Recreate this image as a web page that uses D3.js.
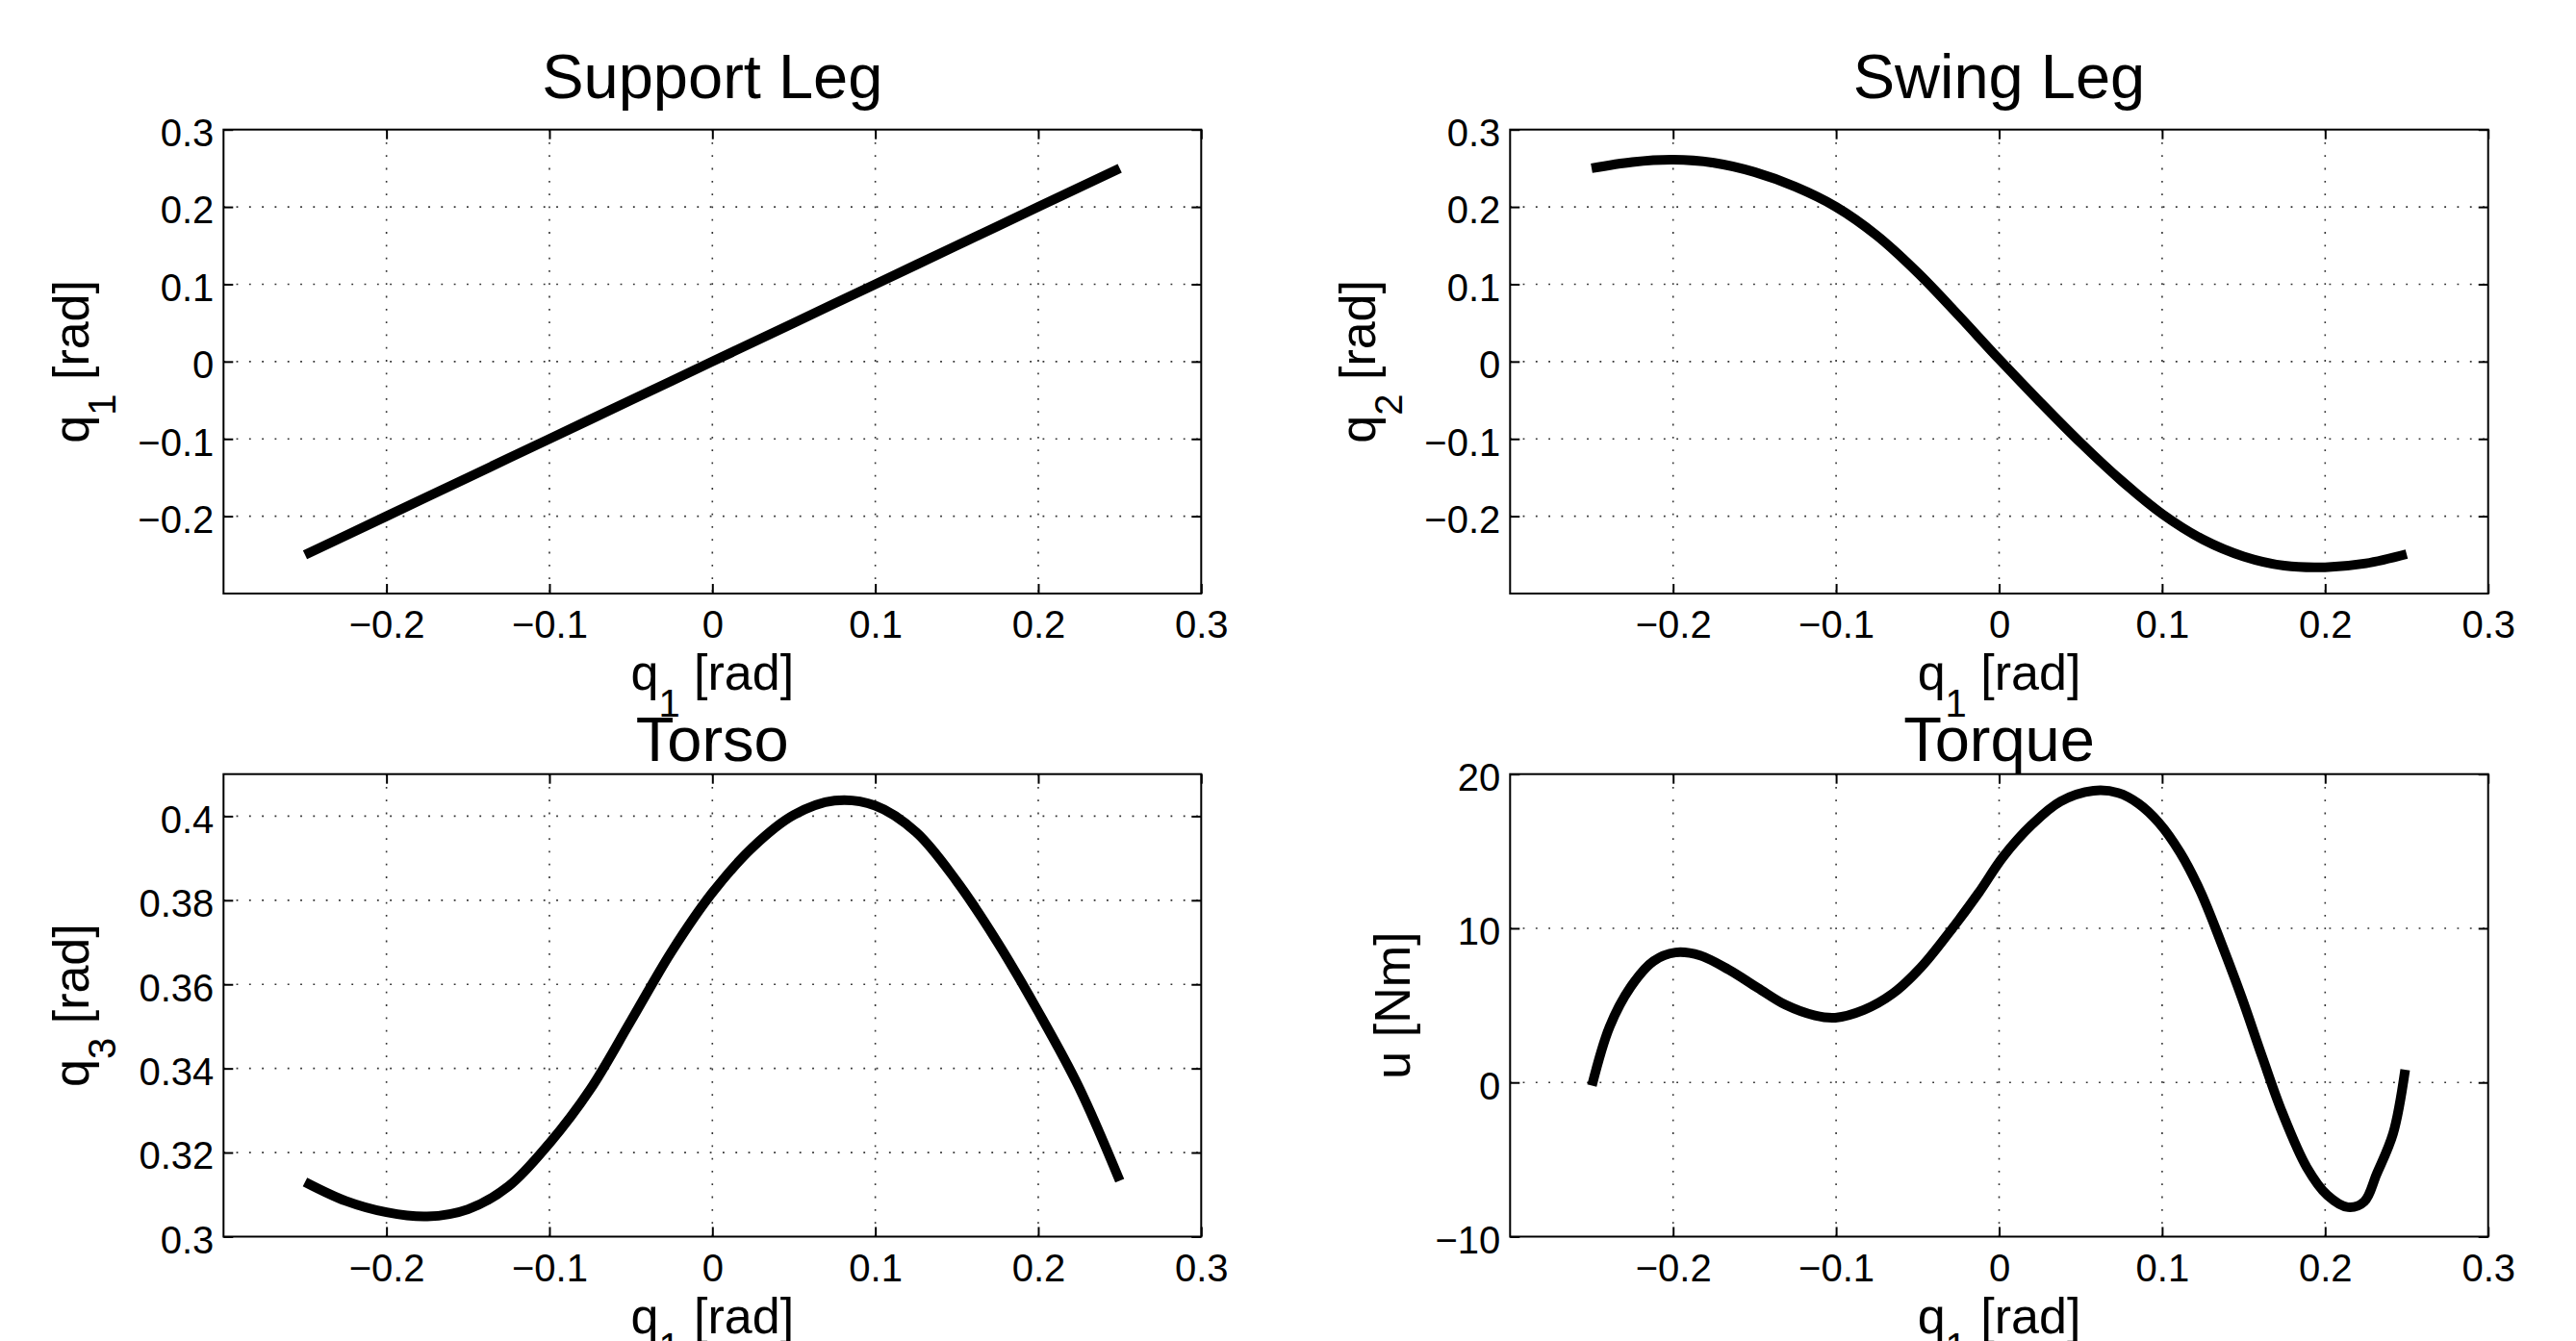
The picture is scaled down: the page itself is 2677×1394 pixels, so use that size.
<!DOCTYPE html>
<html>
<head>
<meta charset="utf-8">
<script src="https://cdn.jsdelivr.net/npm/d3@7"></script>
<style>
  html, body { margin: 0; padding: 0; background: #fff; }
  svg { display: block; }
  text { font-family: "Liberation Sans", Arial, Helvetica, sans-serif; fill: #000; white-space: pre; }
</style>
</head>
<body>
<svg id="chart" width="2677" height="1394"></svg>
<script>
// ---------------- DATA ----------------
const q1Grid   = [-0.25,-0.225,-0.2,-0.175,-0.15,-0.125,-0.1,-0.075,-0.05,-0.025,0,0.025,0.05,0.075,0.1,0.125,0.15,0.175,0.2,0.225,0.25];
const supportQ1 = [-0.25,-0.225,-0.2,-0.175,-0.15,-0.125,-0.1,-0.075,-0.05,-0.025,0,0.025,0.05,0.075,0.1,0.125,0.15,0.175,0.2,0.225,0.25];
const swingQ2  = [0.250,0.258,0.261,0.257,0.245,0.226,0.200,0.163,0.115,0.060,0.003,-0.052,-0.105,-0.154,-0.197,-0.230,-0.252,-0.264,-0.266,-0.261,-0.249];
const torsoQ3  = [0.3130,0.3085,0.3058,0.3048,0.3065,0.3120,0.3222,0.3350,0.3513,0.3678,0.3818,0.3927,0.4003,0.4037,0.4025,0.3962,0.3845,0.3700,0.3535,0.3355,0.3133];

const torqueQ1 = [-0.2498,-0.239,-0.226,-0.212,-0.1985,-0.1834,-0.166,-0.148,-0.131,-0.113,-0.1005,-0.083,-0.0654,-0.048,-0.030,-0.0126,0.0025,0.020,0.0377,0.0579,0.073,0.0855,0.098,0.111,0.1233,0.136,0.1488,0.1614,0.1736,0.1888,0.2014,0.2140,0.224,0.2316,0.2417,0.2491];
const torqueU  = [-0.2,3.6,6.2,7.87,8.43,8.23,7.32,6.13,5.03,4.34,4.20,4.70,5.75,7.46,9.81,12.29,14.64,16.71,18.23,18.92,18.78,18.09,16.85,14.92,12.43,9.12,5.52,1.66,-1.93,-5.52,-7.32,-8.09,-7.73,-5.94,-3.31,0.83];

const xTicks      = [-0.2,-0.1,0,0.1,0.2,0.3];
const xTickLabels = ["\u22120.2","\u22120.1","0","0.1","0.2","0.3"];
const qTicks      = [-0.2,-0.1,0,0.1,0.2,0.3];
const qTickLabels = ["\u22120.2","\u22120.1","0","0.1","0.2","0.3"];
const torsoTicks      = [0.3,0.32,0.34,0.36,0.38,0.4];
const torsoTickLabels = ["0.3","0.32","0.34","0.36","0.38","0.4"];
const torqueTicks      = [-10,0,10,20];
const torqueTickLabels = ["\u221210","0","10","20"];

const titles = ["Support Leg","Swing Leg","Torso","Torque"];

// ---------------- LAYOUT ----------------
const FONT_TICK = 40, FONT_LABEL = 52, FONT_SUB = 40, FONT_TITLE = 65;
const colL = [232.3, 1248.3], colR = [1569.3, 2585.7];
const rowT = [134.7, 617], rowB = [804.7, 1285.5];

const panels = [
  { title: titles[0], xr: colL, yr: rowT, ydom: [-0.3,0.3], yt: qTicks, ytl: qTickLabels,
    xs: q1Grid, ys: supportQ1, curve: d3.curveLinear, ylab: ["q","1"," [rad]"], ylx: 91.5, titleY: 101.7 },
  { title: titles[1], xr: colR, yr: rowT, ydom: [-0.3,0.3], yt: qTicks, ytl: qTickLabels,
    xs: q1Grid, ys: swingQ2, curve: d3.curveCatmullRom.alpha(0.5), ylab: ["q","2"," [rad]"], ylx: 91.5, titleY: 101.7 },
  { title: titles[2], xr: colL, yr: rowB, ydom: [0.3,0.41], yt: torsoTicks, ytl: torsoTickLabels,
    xs: q1Grid, ys: torsoQ3, curve: d3.curveCatmullRom.alpha(0.5), ylab: ["q","3"," [rad]"], ylx: 91.5, titleY: 791 },
  { title: titles[3], xr: colR, yr: rowB, ydom: [-10,20], yt: torqueTicks, ytl: torqueTickLabels,
    xs: torqueQ1, ys: torqueU, curve: d3.curveCatmullRom.alpha(0.5), ylab: ["u [Nm]"], ylx: 128, titleY: 791 }
];

const svg = d3.select("#chart");
svg.append("rect").attr("width",2677).attr("height",1394).attr("fill","#fff");

panels.forEach(p => {
  const x = d3.scaleLinear().domain([-0.3,0.3]).range(p.xr);
  const y = d3.scaleLinear().domain(p.ydom).range([p.yr[1], p.yr[0]]);
  const g = svg.append("g");
  const w = p.xr[1]-p.xr[0], h = p.yr[1]-p.yr[0];

  // grid (dotted)
  const gridX = xTicks.filter(v => v > -0.3 && v < 0.3);
  const gridY = p.yt.filter(v => v > p.ydom[0] && v < p.ydom[1]);
  g.append("g").selectAll("line").data(gridX).join("line")
    .attr("x1", d => x(d)).attr("x2", d => x(d))
    .attr("y1", p.yr[0]).attr("y2", p.yr[1])
    .attr("stroke","#333").attr("stroke-width",1.6).attr("stroke-dasharray","1.8,11.5");
  g.append("g").selectAll("line").data(gridY).join("line")
    .attr("y1", d => y(d)).attr("y2", d => y(d))
    .attr("x1", p.xr[0]).attr("x2", p.xr[1])
    .attr("stroke","#333").attr("stroke-width",1.6).attr("stroke-dasharray","1.8,11.5");

  // axes with inward ticks
  const styleAxis = sel => {
    sel.select(".domain").remove();
    sel.selectAll(".tick line").attr("stroke","#000").attr("stroke-width",2);
    sel.selectAll(".tick text").attr("font-size",FONT_TICK).attr("fill","#000")
       .attr("font-family",'"Liberation Sans", Arial, Helvetica, sans-serif');
  };
  const xb = g.append("g").attr("transform",`translate(0,${p.yr[1]})`)
    .call(d3.axisBottom(x).tickValues(xTicks).tickSize(-10).tickPadding(18)
      .tickFormat((d,i) => xTickLabels[i]));
  styleAxis(xb);
  const xt = g.append("g").attr("transform",`translate(0,${p.yr[0]})`)
    .call(d3.axisTop(x).tickValues(xTicks).tickSize(-10).tickFormat(""));
  styleAxis(xt);
  const yl = g.append("g").attr("transform",`translate(${p.xr[0]},0)`)
    .call(d3.axisLeft(y).tickValues(p.yt).tickSize(-10).tickPadding(10)
      .tickFormat((d,i) => p.ytl[i]));
  styleAxis(yl);
  yl.selectAll(".tick text").attr("dy","0.42em");
  const yr = g.append("g").attr("transform",`translate(${p.xr[1]},0)`)
    .call(d3.axisRight(y).tickValues(p.yt).tickSize(-10).tickFormat(""));
  styleAxis(yr);

  // box
  g.append("rect").attr("x",p.xr[0]).attr("y",p.yr[0]).attr("width",w).attr("height",h)
    .attr("fill","none").attr("stroke","#000").attr("stroke-width",2);

  // data line
  const pts = p.xs.map((v,i) => [v, p.ys[i]]);
  g.append("path").datum(pts)
    .attr("d", d3.line().x(d => x(d[0])).y(d => y(d[1])).curve(p.curve))
    .attr("fill","none").attr("stroke","#000").attr("stroke-width",10)
    .attr("stroke-linecap","butt").attr("stroke-linejoin","round");

  // title
  const cx = (p.xr[0]+p.xr[1])/2, cy = (p.yr[0]+p.yr[1])/2;
  g.append("text").attr("x",cx).attr("y",p.titleY).attr("text-anchor","middle")
    .attr("font-size",FONT_TITLE).text(p.title);

  // x label: q_1 [rad]
  const xlab = g.append("text").attr("x",cx).attr("y",p.yr[1]+100).attr("text-anchor","middle")
    .attr("font-size",FONT_LABEL);
  xlab.append("tspan").text("q");
  xlab.append("tspan").attr("dy",28).attr("font-size",FONT_SUB).text("1");
  xlab.append("tspan").attr("dy",-28).text("\u00a0[rad]");

  // y label
  const ylab = g.append("text")
    .attr("transform",`translate(${p.xr[0]-232.3+p.ylx},${cy}) rotate(-90)`)
    .attr("text-anchor","middle").attr("font-size",FONT_LABEL);
  if (p.ylab.length === 3) {
    ylab.append("tspan").text(p.ylab[0]);
    ylab.append("tspan").attr("dy",28).attr("font-size",FONT_SUB).text(p.ylab[1]);
    ylab.append("tspan").attr("dy",-28).text(p.ylab[2].replace(" ","\u00a0"));
  } else {
    ylab.text(p.ylab[0]);
  }
});
</script>
</body>
</html>
